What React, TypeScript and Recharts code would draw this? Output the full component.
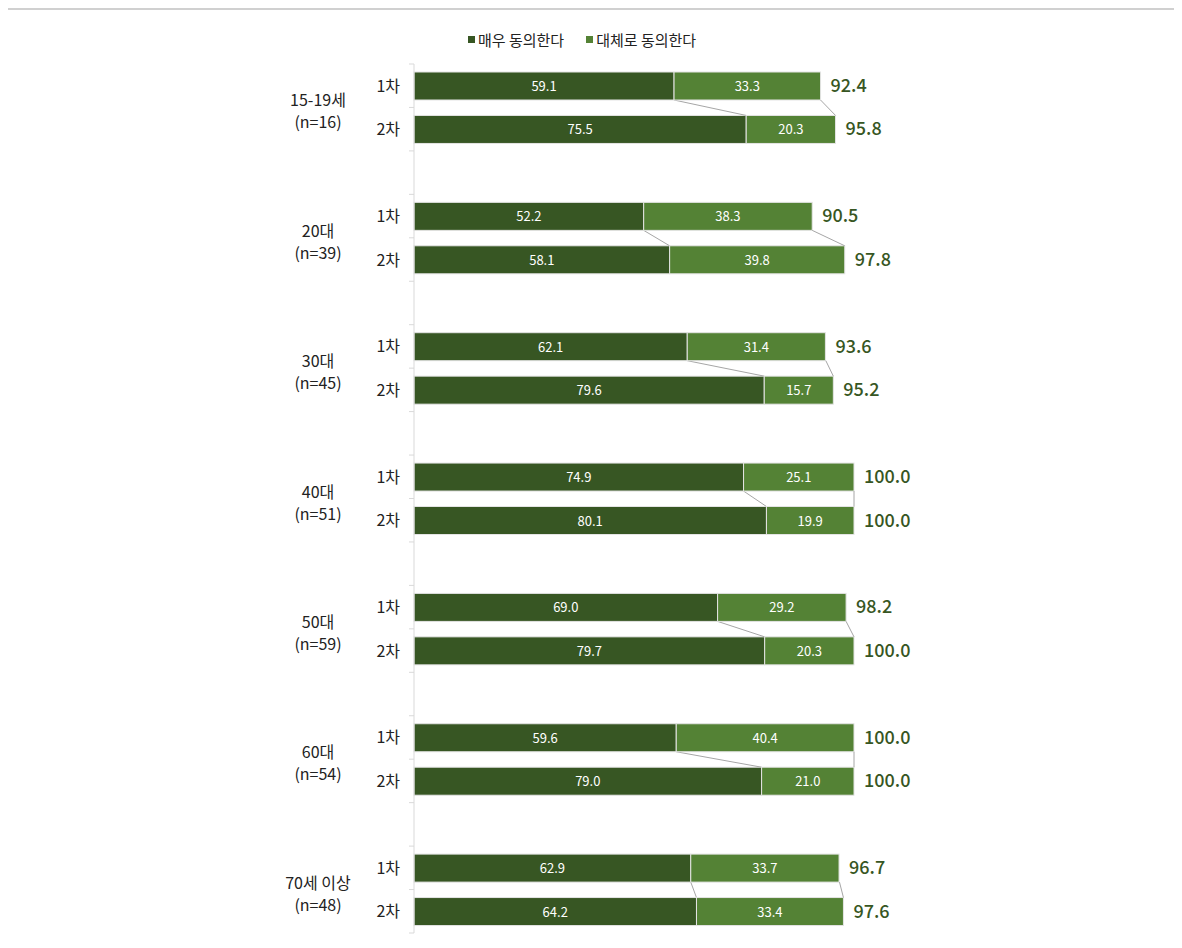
import { BarChart, Bar, XAxis, YAxis, LabelList } from "recharts";

const groups = ["15-19세", "20대", "30대", "40대", "50대", "60대", "70세 이상"];
const groupN = ["(n=16)", "(n=39)", "(n=45)", "(n=51)", "(n=59)", "(n=54)", "(n=48)"];
const rounds = ["1차", "2차"];
const legendNames = ["매우 동의한다", "대체로 동의한다"];

// 1차
const strong1 = [59.1, 52.2, 62.1, 74.9, 69.0, 59.6, 62.9];
const some1 = [33.3, 38.3, 31.4, 25.1, 29.2, 40.4, 33.7];
const total1 = [92.4, 90.5, 93.6, 100.0, 98.2, 100.0, 96.7];
// 2차
const strong2 = [75.5, 58.1, 79.6, 80.1, 79.7, 79.0, 64.2];
const some2 = [20.3, 39.8, 15.7, 19.9, 20.3, 21.0, 33.4];
const total2 = [95.8, 97.8, 95.2, 100.0, 100.0, 100.0, 97.6];

const DARK = "#375623";
const LIGHT = "#548235";
const FONT = "'Noto Sans CJK KR', 'Noto Sans', sans-serif";

const W = 1160;
const H = 932;
const AXIS_X = 406;
const TOP = 56;
const BOTTOM = 7;
const ROWS = groups.length * 3 - 1;
const BAND = (H - TOP - BOTTOM) / ROWS;
const BAR = 28;
const GAP = BAND - BAR;

type Row = { key: string; g: number; r: number; a?: number; b?: number; t?: number };

const data: Row[] = [];
groups.forEach((_, g) => {
  data.push({ key: `${g}-1`, g, r: 0, a: strong1[g], b: some1[g], t: total1[g] });
  data.push({ key: `${g}-2`, g, r: 1, a: strong2[g], b: some2[g], t: total2[g] });
  if (g < groups.length - 1) data.push({ key: `${g}-s`, g, r: -1 });
});

const Tick = (props: any) => {
  const { y, index } = props;
  const row = data[index];
  const top = y - BAND / 2;
  const tickColor = "#d9d9d9";
  return (
    <g>
      <line x1={AXIS_X - 5} x2={AXIS_X} y1={top} y2={top} stroke={tickColor} />
      {index === data.length - 1 && (
        <line x1={AXIS_X - 5} x2={AXIS_X} y1={y + BAND / 2} y2={y + BAND / 2} stroke={tickColor} />
      )}
      {row.r >= 0 && (
        <text x={392} y={y} dy={6} textAnchor="end" fontSize={16} fill="#222" fontFamily={FONT}>
          {rounds[row.r]}
        </text>
      )}
      {row.r === 0 && (
        <text textAnchor="middle" fontSize={16} fill="#222" fontFamily={FONT}>
          <tspan x={310} y={y + BAND / 2 - 1}>{groups[row.g]}</tspan>
          <tspan x={310} y={y + BAND / 2 + 21}>{groupN[row.g]}</tspan>
        </text>
      )}
    </g>
  );
};

const segShape = (series: "a" | "b") => (props: any) => {
  const { x, y, width, height, fill, payload } = props;
  if (!width || !height) return <g />;
  let link = null;
  if (payload.r === 1) {
    const k = width / payload[series];
    const x0 = series === "a" ? x : x - payload.a * k;
    const prev = series === "a" ? strong1[payload.g] : total1[payload.g];
    link = (
      <line x1={x0 + prev * k} y1={y - GAP} x2={x + width} y2={y} stroke="#a6a6a6" strokeWidth={1} />
    );
  }
  return (
    <g>
      <rect x={x} y={y} width={width} height={height} fill={fill} stroke="#e4e4e4" strokeWidth={1} />
      {link}
    </g>
  );
};

const inner = (props: any) => {
  const { x, y, width, height, value } = props;
  if (value == null) return null;
  return (
    <text x={x + width / 2} y={y + height / 2} dy={5} textAnchor="middle" fontSize={13} fill="#fff" fontFamily={FONT}>
      {Number(value).toFixed(1)}
    </text>
  );
};

const totalLabel = (props: any) => {
  const { x, y, width, height, value } = props;
  if (value == null) return null;
  return (
    <text x={x + width + 10} y={y + height / 2} dy={6} fontSize={18} fontWeight={500} fill={DARK} fontFamily={FONT}>
      {Number(value).toFixed(1)}
    </text>
  );
};

export default function App() {
  return (
    <div
      style={{
        position: "relative",
        width: 1169,
        height: H,
        marginLeft: -3,
        fontFamily: FONT,
        borderTop: "2px solid #d0d0d0",
        borderLeft: "2px solid #d0d0d0",
        boxSizing: "border-box",
        overflow: "hidden",
      }}
    >
      <div
        style={{
          position: "absolute",
          top: 19,
          left: 461,
          display: "flex",
          alignItems: "center",
          fontSize: 15,
          color: "#222",
          whiteSpace: "nowrap",
        }}
      >
        {[DARK, LIGHT].map((c, i) => (
          <span key={i} style={{ display: "flex", alignItems: "center", marginRight: i === 0 ? 22 : 0 }}>
            <span style={{ width: 7, height: 7, background: c, display: "inline-block", marginRight: 3 }} />
            {legendNames[i]}
          </span>
        ))}
      </div>
      <BarChart
        width={W}
        height={H}
        data={data}
        layout="vertical"
        margin={{ top: TOP, right: W - AXIS_X - 440, bottom: BOTTOM, left: 0 }}
        barCategoryGap={0}
        style={{ position: "absolute", top: -2, left: 1 }}
      >
        <XAxis type="number" domain={[0, 100]} hide />
        <YAxis
          type="category"
          dataKey="key"
          width={AXIS_X}
          interval={0}
          tickLine={false}
          axisLine={{ stroke: "#d9d9d9" }}
          tick={<Tick />}
        />
        <Bar dataKey="a" stackId="s" fill={DARK} barSize={BAR} shape={segShape("a")} isAnimationActive={false}>
          <LabelList dataKey="a" content={inner} />
        </Bar>
        <Bar dataKey="b" stackId="s" fill={LIGHT} barSize={BAR} shape={segShape("b")} isAnimationActive={false}>
          <LabelList dataKey="b" content={inner} />
          <LabelList dataKey="t" content={totalLabel} />
        </Bar>
      </BarChart>
    </div>
  );
}
